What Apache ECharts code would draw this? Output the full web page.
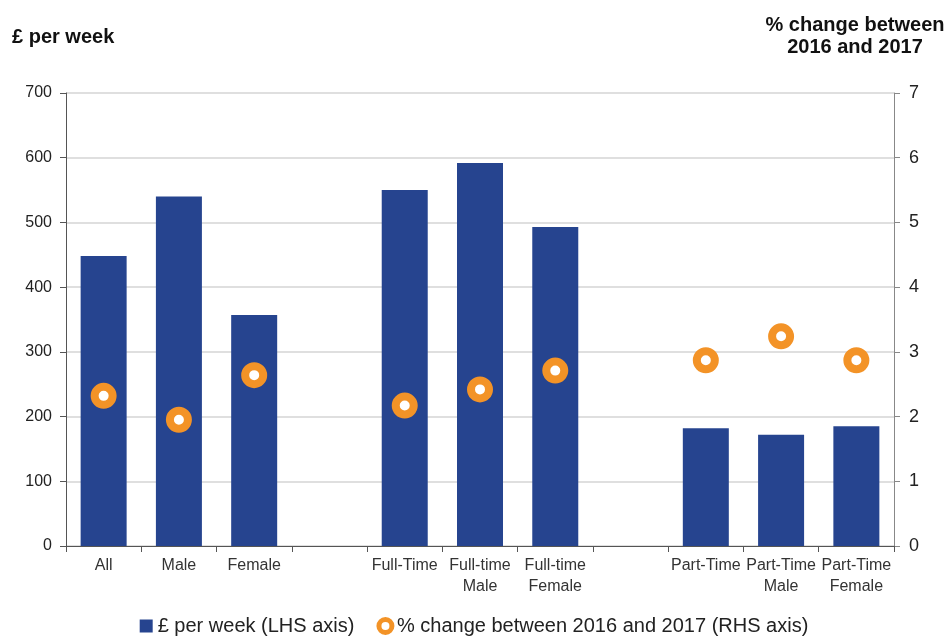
<!DOCTYPE html>
<html>
<head>
<meta charset="utf-8">
<script src="https://cdn.jsdelivr.net/npm/echarts@6/dist/echarts.min.js"></script>
<style>
  html, body { margin: 0; padding: 0; background: #fff; }
  #chart { width: 948px; height: 639px; }
</style>
</head>
<body>
<div id="chart"></div>
<script>
var categories = ['All', 'Male', 'Female', '', 'Full-Time', 'Full-time\nMale', 'Full-time\nFemale', '', 'Part-Time', 'Part-Time\nMale', 'Part-Time\nFemale'];
var weeklyPay = [448, 540, 357, '-', 550, 592, 493, '-', 182, 172, 185];
var pctChange = [2.32, 1.95, 2.64, '-', 2.17, 2.42, 2.71, '-', 2.87, 3.24, 2.87];
var leftTicks = [0, 700, 100];
var rightTicks = [0, 7, 1];

var font = 'Liberation Sans, Arial, sans-serif';

var chart = echarts.init(document.getElementById('chart'));
chart.setOption({
  animation: false,
  textStyle: { fontFamily: font },
  grid: { left: 66, right: 54, top: 93, bottom: 93 },
  graphic: [
    { type: 'text', left: 12, top: 27, style: { text: '£ per week', font: 'bold 20px ' + font, fill: '#111' } },
    { type: 'text', x: 855, y: 14, style: { text: '% change between\n2016 and 2017', font: 'bold 20px ' + font, fill: '#111', align: 'center', lineHeight: 22 } }
  ],
  legend: {
    bottom: -2,
    left: 'center',
    itemGap: 22,
    itemWidth: 13,
    itemHeight: 13,
    textStyle: { fontSize: 20, color: '#222', fontFamily: font },
    data: [
      { name: '£ per week (LHS axis)', icon: 'rect', itemStyle: { color: '#26448F' } },
      { name: '% change between 2016 and 2017 (RHS axis)', icon: 'circle', itemStyle: { color: '#fff', borderColor: '#F39327', borderWidth: 5 } }
    ]
  },
  xAxis: {
    type: 'category',
    data: categories,
    axisLine: { lineStyle: { color: '#555' } },
    axisTick: { show: true, length: 6, lineStyle: { color: '#555' } },
    axisLabel: { color: '#333', fontSize: 16, interval: 0, lineHeight: 21, margin: 9 }
  },
  yAxis: [
    {
      type: 'value',
      min: leftTicks[0], max: leftTicks[1], interval: leftTicks[2],
      axisLine: { show: true, lineStyle: { color: '#555' } },
      axisTick: { show: true, length: 6, lineStyle: { color: '#555' } },
      axisLabel: { color: '#222', fontSize: 16, margin: 14 },
      splitLine: { lineStyle: { color: '#d4d4d4', width: 1.5 } }
    },
    {
      type: 'value',
      position: 'right',
      min: rightTicks[0], max: rightTicks[1], interval: rightTicks[2],
      axisLine: { show: true, lineStyle: { color: '#888' } },
      axisTick: { show: true, length: 6, lineStyle: { color: '#888' } },
      axisLabel: { color: '#222', fontSize: 18, margin: 15 },
      splitLine: { show: false }
    }
  ],
  series: [
    {
      name: '£ per week (LHS axis)',
      type: 'bar',
      data: weeklyPay,
      barWidth: 46,
      itemStyle: { color: '#26448F' }
    },
    {
      name: '% change between 2016 and 2017 (RHS axis)',
      type: 'scatter',
      yAxisIndex: 1,
      data: pctChange,
      symbol: 'circle',
      symbolSize: 18,
      itemStyle: { color: '#fff', borderColor: '#F39327', borderWidth: 8, opacity: 1 },
      z: 5
    }
  ]
});
</script>
</body>
</html>
